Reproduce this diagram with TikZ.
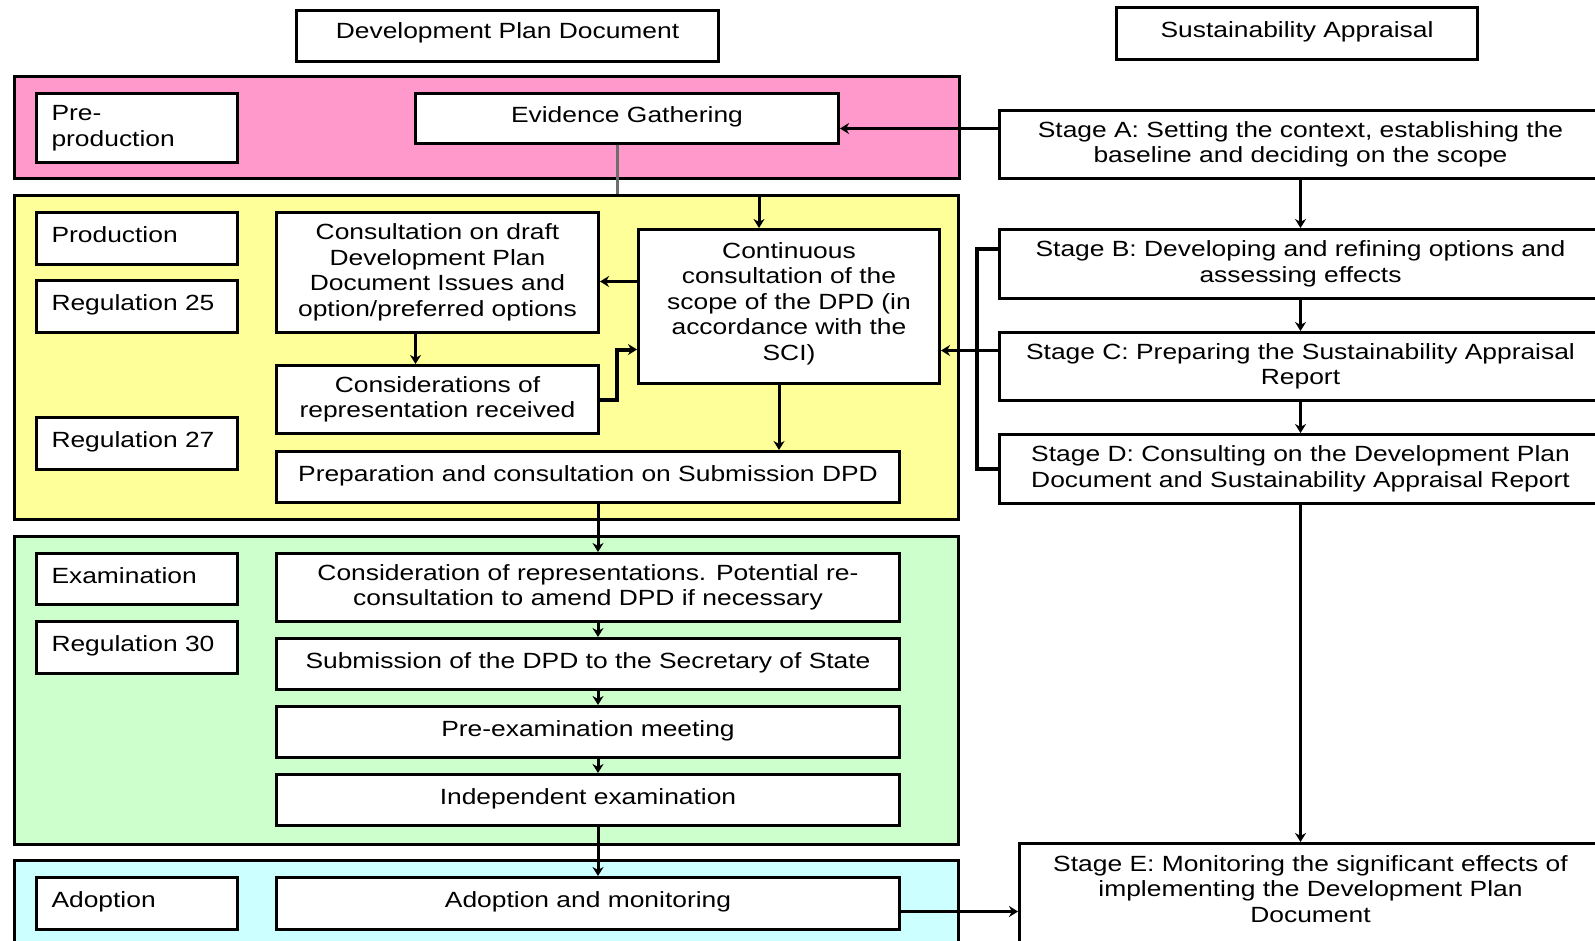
\documentclass[tikz,border=0pt]{standalone}
\usepackage{fontspec}
\setmainfont{Liberation Sans}[FakeStretch=1.2]
\usetikzlibrary{arrows.meta,calc}
\definecolor{bandpink}{RGB}{255,153,204}
\definecolor{bandyellow}{RGB}{255,255,153}
\definecolor{bandgreen}{RGB}{204,255,204}
\definecolor{bandcyan}{RGB}{204,255,255}
\definecolor{lgray}{RGB}{110,110,110}
\begin{document}
\begin{tikzpicture}[x=1pt,y=-1pt,
  font=\fontsize{22}{25.5}\selectfont,
  band/.style={draw,line width=3pt,anchor=north west,inner sep=0pt},
  wbox/.style={draw,fill=white,line width=3pt,align=center,anchor=north west,inner sep=3pt},
  lbox/.style={draw,fill=white,line width=3pt,align=left,anchor=north west,text width=171pt,inner xsep=15pt,inner ysep=3pt,minimum height=52pt},
  oneline/.style={text height=16pt,text depth=8pt},
  arr/.style={line width=3pt,-{Stealth[length=9pt,width=11pt]}},
  bracket/.style={line width=4.5pt},
  glink/.style={line width=3pt,lgray}]
\useasboundingbox (0,0) rectangle (1595,940);

% headers
\node[wbox,minimum width=422pt,minimum height=51pt,text height=16pt,text depth=12pt] (hdrA) at (295,9) {Development Plan Document};
\node[wbox,oneline,minimum width=361pt,minimum height=52pt] (hdrB) at (1115,6) {Sustainability Appraisal};

% bands
\node[band,fill=bandpink,minimum width=945pt,minimum height=102pt] (pink) at (13,75) {};
\node[band,fill=bandyellow,minimum width=944pt,minimum height=324pt] (yellow) at (13,194) {};
\node[band,fill=bandgreen,minimum width=944pt,minimum height=308pt] (green) at (13,535) {};
\node[band,fill=bandcyan,minimum width=944pt,minimum height=110pt] (cyan) at (13,859) {};

% pre-production
\node[lbox,minimum height=69pt] (preprod) at (35,92) {Pre-\\production};
\node[wbox,oneline,minimum width=423pt,minimum height=50pt] (evid) at (414,92) {Evidence Gathering};

% production
\node[lbox,oneline] (prodn) at (35,211) {Production};
\node[lbox,oneline] (reg25) at (35,279) {Regulation 25};
\node[lbox,oneline] (reg27) at (35,416) {Regulation 27};
\node[wbox,minimum width=322pt,minimum height=120pt] (cdraft) at (275,211) {Consultation on draft\\Development Plan\\Document Issues and\\option/preferred options};
\node[wbox,minimum width=301pt,minimum height=154pt,text depth=10pt] (cont) at (637,228) {Continuous\\consultation of the\\scope of the DPD (in\\accordance with the\\SCI)};
\node[wbox,minimum width=322pt,minimum height=68pt] (consrep) at (275,364) {Considerations of\\representation received};
\node[wbox,oneline,minimum width=623pt,minimum height=51pt] (prep) at (275,450) {Preparation and consultation on Submission DPD};

% examination
\node[lbox,oneline,minimum height=51pt] (exam) at (35,552) {Examination};
\node[lbox,oneline] (reg30) at (35,620) {Regulation 30};
\node[wbox,minimum width=623pt,minimum height=68pt] (consid) at (275,552) {Consideration of representations. Potential re-\\consultation to amend DPD if necessary};
\node[wbox,oneline,minimum width=623pt,minimum height=51pt] (submis) at (275,637) {Submission of the DPD to the Secretary of State};
\node[wbox,oneline,minimum width=623pt,minimum height=51pt] (preexam) at (275,705) {Pre-examination meeting};
\node[wbox,oneline,minimum width=623pt,minimum height=51pt] (indep) at (275,773) {Independent examination};

% adoption
\node[lbox,oneline] (adopt) at (35,876) {Adoption};
\node[wbox,oneline,minimum width=623pt,minimum height=52pt] (adopmon) at (275,876) {Adoption and monitoring};

% sustainability appraisal stages
\node[wbox,minimum width=602pt,minimum height=68pt] (stA) at (998,109) {Stage A: Setting the context, establishing the\\baseline and deciding on the scope};
\node[wbox,minimum width=602pt,minimum height=69pt] (stB) at (998,228) {Stage B: Developing and refining options and\\assessing effects};
\node[wbox,minimum width=602pt,minimum height=68pt] (stC) at (998,331) {Stage C: Preparing the Sustainability Appraisal\\Report};
\node[wbox,minimum width=602pt,minimum height=69pt] (stD) at (998,433) {Stage D: Consulting on the Development Plan\\Document and Sustainability Appraisal Report};
\node[draw,fill=white,line width=3pt,align=center,anchor=north west,minimum width=582pt,inner ysep=12pt,text depth=40pt] (stE) at (1018,842) {Stage E: Monitoring the significant effects of\\implementing the Development Plan\\Document};

% connectors: DPD side
\coordinate (c7) at ([yshift=-10pt]evid.east);
\draw[arr] (c7 -| stA.west) -- (c7);
\coordinate (egb) at ([xshift=-9.5pt]evid.south);
\draw[glink] (egb) -- (egb |- yellow.north);
\coordinate (ct) at ([xshift=-30pt]cont.north);
\draw[arr] (ct |- yellow.north) -- (ct);
\coordinate (c1) at ([yshift=25pt]cont.west);
\draw[arr] (c1) -- (c1 -| cdraft.east);
\coordinate (c2) at ([xshift=-22pt]cdraft.south);
\draw[arr] (c2) -- (c2 |- consrep.north);
\coordinate (c3) at ([yshift=-43pt]cont.west);
\draw[arr,line width=4pt] (consrep.east) -- ++(17,0) |- (c3);
\coordinate (c4) at ([xshift=-10pt]cont.south);
\draw[arr] (c4) -- (c4 |- prep.north);
\coordinate (c5) at ([xshift=10pt]prep.south);
\draw[arr] (c5) -- (c5 |- consid.north);
\draw[arr] (c5 |- consid.south) -- (c5 |- submis.north);
\draw[arr] (c5 |- submis.south) -- (c5 |- preexam.north);
\draw[arr] (c5 |- preexam.south) -- (c5 |- indep.north);
\draw[arr] (c5 |- indep.south) -- (c5 |- adopmon.north);
\coordinate (c6) at ([yshift=-8pt]adopmon.east);
\draw[arr] (c6) -- (c6 -| stE.west);

% connectors: SA side
\draw[arr] (stA.south) -- (stB.north);
\draw[arr] (stB.south) -- (stC.north);
\draw[arr] (stC.south) -- (stD.north);
\draw[arr] (stD.south) -- (stD.south |- stE.north);
\coordinate (bB) at ([yshift=15pt]stB.west);
\draw[bracket] (bB) -- ++(-21,0) |- (stD.west);
\coordinate (c8) at ([yshift=-44pt]cont.east);
\draw[arr] (c8 -| stC.west) -- (c8);
\end{tikzpicture}
\end{document}
